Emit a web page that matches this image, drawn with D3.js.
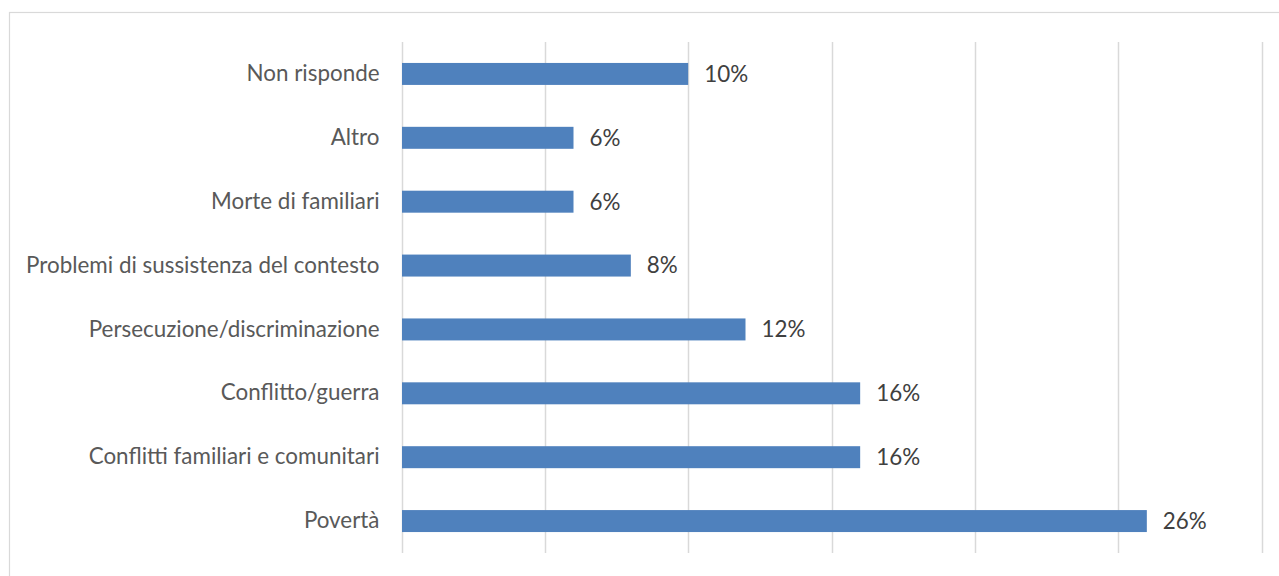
<!DOCTYPE html>
<html>
<head>
<meta charset="utf-8">
<script src="https://cdn.jsdelivr.net/npm/d3@7"></script>
<style>
  html, body { margin: 0; padding: 0; background: #fff; }
  svg { display: block; }
</style>
</head>
<body>
<svg id="chart" width="1279" height="576"></svg>
<script>
// Motivi di partenza (quota percentuale)
const categories = [
  "Non risponde",
  "Altro",
  "Morte di familiari",
  "Problemi di sussistenza del contesto",
  "Persecuzione/discriminazione",
  "Conflitto/guerra",
  "Conflitti familiari e comunitari",
  "Povertà"
];
const values = [10, 6, 6, 8, 12, 16, 16, 26];
const tickValues = [0, 5, 10, 15, 20, 25, 30];

const svg = d3.select("#chart");
const W = 1279, H = 576;
const plot = { left: 401.5, right: 1261.5, top: 42, bottom: 553 };
const font = "Lato, 'Open Sans', sans-serif";
const fontSize = 22.4;

// chart frame
svg.append("rect")
  .attr("x", 9.5).attr("y", 12.5)
  .attr("width", W + 10).attr("height", H + 10)
  .attr("fill", "#fff")
  .attr("stroke", "#d9d9d9").attr("stroke-width", 1.2);

const x = d3.scaleLinear().domain([0, 30]).range([plot.left, plot.right]);
const y = d3.scaleBand().domain(categories).range([plot.top, plot.bottom]).paddingInner(0.656).paddingOuter(0.328);

// vertical gridlines
svg.append("g")
  .selectAll("line")
  .data(tickValues)
  .join("line")
  .attr("x1", d => Math.round(x(d)) + 0.5)
  .attr("x2", d => Math.round(x(d)) + 0.5)
  .attr("y1", plot.top).attr("y2", plot.bottom)
  .attr("stroke", "#d9d9d9").attr("stroke-width", 1.5);

// bars
svg.append("g")
  .selectAll("rect")
  .data(categories)
  .join("rect")
  .attr("x", x(0) + 0.5)
  .attr("y", d => y(d))
  .attr("width", (d, i) => x(values[i]) - x(0) - 0.5)
  .attr("height", y.bandwidth())
  .attr("fill", "#4f81bd");

// category labels
const yAxis = d3.axisLeft(y).tickSize(0).tickPadding(0);
const ga = svg.append("g").attr("transform", `translate(${plot.left - 22},0)`).call(yAxis);
ga.select(".domain").remove();
ga.selectAll("text")
  .attr("font-family", font).attr("font-size", fontSize)
  .attr("fill", "#595959");

// value labels
svg.append("g")
  .selectAll("text")
  .data(categories)
  .join("text")
  .attr("x", (d, i) => x(values[i]) + 16)
  .attr("y", d => y(d) + y.bandwidth() / 2)
  .attr("dy", "0.35em")
  .attr("font-family", font).attr("font-size", fontSize)
  .attr("fill", "#404040")
  .text((d, i) => values[i] + "%");
</script>
</body>
</html>
